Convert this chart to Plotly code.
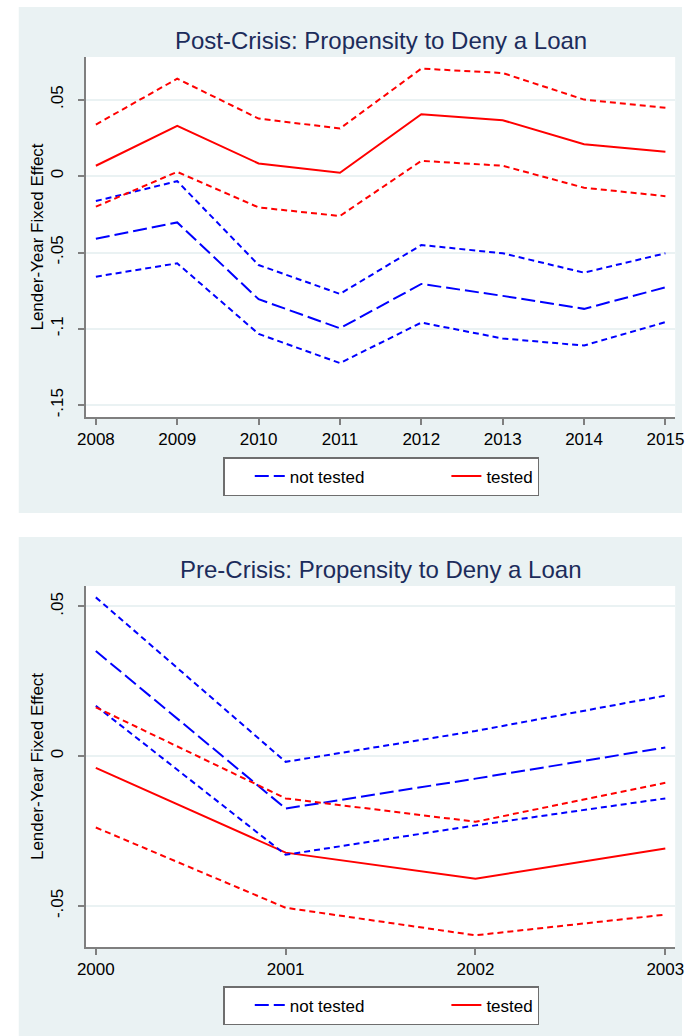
import plotly.graph_objects as go

# ---------------- data ----------------
post_years = [2008, 2009, 2010, 2011, 2012, 2013, 2014, 2015]
post_tested = [0.0068, 0.0329, 0.0083, 0.0022, 0.0405, 0.0366, 0.0209, 0.0159]
post_tested_hi = [0.0338, 0.0638, 0.0377, 0.0312, 0.0704, 0.0675, 0.0501, 0.0447]
post_tested_lo = [-0.0200, 0.0028, -0.0205, -0.0261, 0.0100, 0.0068, -0.0076, -0.0131]
post_not = [-0.0410, -0.0303, -0.0806, -0.0996, -0.0706, -0.0784, -0.0869, -0.0728]
post_not_hi = [-0.0163, -0.0033, -0.0582, -0.0771, -0.0451, -0.0505, -0.0632, -0.0505]
post_not_lo = [-0.0658, -0.0571, -0.1033, -0.1224, -0.0959, -0.1063, -0.1109, -0.0956]

pre_years = [2000, 2001, 2002, 2003]
pre_tested = [-0.0039, -0.0322, -0.0409, -0.0308]
pre_tested_hi = [0.0163, -0.0141, -0.0219, -0.0089]
pre_tested_lo = [-0.0238, -0.0506, -0.0598, -0.0529]
pre_not = [0.0351, -0.0175, -0.0075, 0.0029]
pre_not_hi = [0.0530, -0.0019, 0.0084, 0.0202]
pre_not_lo = [0.0168, -0.0329, -0.0231, -0.0141]

post_yticks = [-0.15, -0.1, -0.05, 0, 0.05]
post_yticklabels = ["-.15", "-.1", "-.05", "0", ".05"]
pre_yticks = [-0.05, 0, 0.05]
pre_yticklabels = ["-.05", "0", ".05"]

titles = ["Post-Crisis: Propensity to Deny a Loan", "Pre-Crisis: Propensity to Deny a Loan"]
ytitle = "Lender-Year Fixed Effect"
series_names = ["not tested", "tested"]

# ---------------- layout constants ----------------
W, H = 691, 1036
FONT = "Liberation Sans, Arial, sans-serif"
BLUE = "#0000FF"
RED = "#FF0000"
BG = "#EAF2F3"
AXC = "#7F7F7F"

def px_x(v):
    return v / W

def px_y(v):
    return 1 - v / H

xdom = [px_x(79), px_x(684)]
top_dom = [px_y(417), px_y(57)]
bot_dom = [px_y(947), px_y(586)]

fig = go.Figure()

CI_DASH = "6px,4px"
MID_DASH = "14px,5px"
PAD = "\u00a0" * 11  # widen first legend entry

def add_panel(years, nt, nt_hi, nt_lo, t, t_hi, t_lo, xa, ya, legend):
    common = dict(mode="lines", xaxis=xa, yaxis=ya, hoverinfo="skip")
    fig.add_trace(go.Scatter(x=years, y=nt, name=series_names[0] + PAD, legend=legend,
                             line=dict(color=BLUE, width=2, dash=MID_DASH), showlegend=True, **common))
    fig.add_trace(go.Scatter(x=years, y=t, name=series_names[1], legend=legend,
                             line=dict(color=RED, width=2), showlegend=True, **common))
    for arr, c in [(nt_hi, BLUE), (nt_lo, BLUE), (t_hi, RED), (t_lo, RED)]:
        fig.add_trace(go.Scatter(x=years, y=arr, showlegend=False, legend=legend,
                                 line=dict(color=c, width=2, dash=CI_DASH), **common))

add_panel(post_years, post_not, post_not_hi, post_not_lo, post_tested, post_tested_hi, post_tested_lo,
          "x", "y", "legend")
add_panel(pre_years, pre_not, pre_not_hi, pre_not_lo, pre_tested, pre_tested_hi, pre_tested_lo,
          "x2", "y2", "legend2")

xcommon = dict(showline=True, linecolor=AXC, linewidth=1.5, ticks="outside", ticklen=6,
               tickcolor=AXC, tickwidth=1.5, showgrid=False, zeroline=False,
               ticklabeloverflow="allow",
               tickfont=dict(family=FONT, size=17, color="black"), domain=xdom)
ycommon = dict(showline=True, linecolor=AXC, linewidth=1.5, ticks="outside", ticklen=6,
               tickcolor=AXC, tickwidth=1.5, showgrid=True, gridcolor=BG, gridwidth=1.5,
               zeroline=False, tickangle=-90, ticklabelstandoff=8, ticklabeloverflow="allow",
               tickfont=dict(family=FONT, size=17, color="black"),
               title=dict(text=ytitle, font=dict(family=FONT, size=17, color="black"), standoff=0))

legend_common = dict(orientation="h", xanchor="left", yanchor="top",
                     bgcolor="white", bordercolor="#6E6E6E", borderwidth=1.5,
                     indentation=25,
                     font=dict(family=FONT, size=17, color="black"))

fig.update_layout(
    width=W, height=H,
    margin=dict(l=0, r=0, t=0, b=0),
    paper_bgcolor="white", plot_bgcolor="rgba(0,0,0,0)",
    showlegend=True,
    xaxis=dict(range=[2007.878, 2015.12], tickvals=post_years, anchor="y", **xcommon),
    yaxis=dict(range=[-0.1577, 0.078], tickvals=post_yticks, ticktext=post_yticklabels,
               domain=top_dom, anchor="x", **ycommon),
    xaxis2=dict(range=[1999.948, 2003.052], tickvals=pre_years, anchor="y2", **xcommon),
    yaxis2=dict(range=[-0.0637, 0.0568], tickvals=pre_yticks, ticktext=pre_yticklabels,
                domain=bot_dom, anchor="x2", **ycommon),
    legend=dict(x=px_x(220), y=px_y(457), **legend_common),
    legend2=dict(x=px_x(220), y=px_y(986), **legend_common),
    shapes=[
        dict(type="rect", xref="paper", yref="paper", x0=px_x(10), x1=1, y0=px_y(513), y1=px_y(7),
             fillcolor=BG, line=dict(width=0), layer="below"),
        dict(type="rect", xref="paper", yref="paper", x0=px_x(10), x1=1, y0=px_y(1036), y1=px_y(537),
             fillcolor=BG, line=dict(width=0), layer="below"),
        dict(type="rect", xref="paper", yref="paper", x0=xdom[0], x1=xdom[1], y0=top_dom[0], y1=top_dom[1],
             fillcolor="white", line=dict(width=0), layer="below"),
        dict(type="rect", xref="paper", yref="paper", x0=xdom[0], x1=xdom[1], y0=bot_dom[0], y1=bot_dom[1],
             fillcolor="white", line=dict(width=0), layer="below"),
    ],
    annotations=[
        dict(text=titles[0], xref="paper", yref="paper", x=(xdom[0] + xdom[1]) / 2, y=px_y(40),
             xanchor="center", yanchor="middle", showarrow=False,
             font=dict(family=FONT, size=24, color="#1C2C5B")),
        dict(text=titles[1], xref="paper", yref="paper", x=(xdom[0] + xdom[1]) / 2, y=px_y(569),
             xanchor="center", yanchor="middle", showarrow=False,
             font=dict(family=FONT, size=24, color="#1C2C5B")),
    ],
)

fig.write_html("out.html", config={"displayModeBar": False},
               post_script="document.body.style.margin='0';document.body.style.overflow='hidden';")
